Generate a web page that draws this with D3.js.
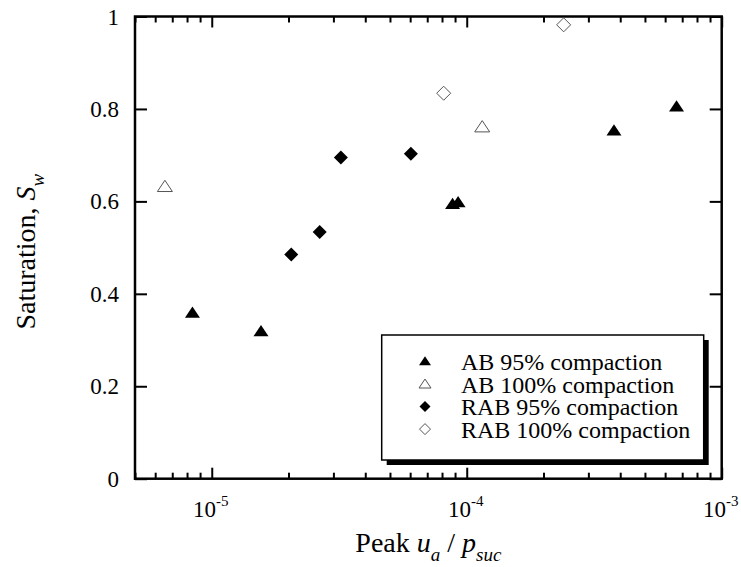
<!DOCTYPE html>
<html>
<head>
<meta charset="utf-8">
<script src="https://cdn.jsdelivr.net/npm/d3@7"></script>
<style>
  body { margin: 0; background: #fff; }
  text { font-family: "Liberation Serif", "Times New Roman", serif; fill: #000; }
</style>
</head>
<body>
<div id="chart"></div>
<script>
// series values: [peak ua/psuc, saturation Sw]
const ab95 = [[8.4e-6, 0.36], [1.56e-5, 0.32], [8.8e-5, 0.595], [9.25e-5, 0.599], [3.78e-4, 0.754], [6.65e-4, 0.806]];
const ab100 = [[6.55e-6, 0.633], [1.15e-4, 0.762]];
const rab95 = [[2.05e-5, 0.485], [2.65e-5, 0.534], [3.21e-5, 0.695], [6.04e-5, 0.703]];
const rab100 = [[8.12e-5, 0.834], [2.4e-4, 0.982]];

const seriesNames = ['AB 95% compaction', 'AB 100% compaction', 'RAB 95% compaction', 'RAB 100% compaction'];
const xMajorTicks = [1e-5, 1e-4, 1e-3];
const xTickExponents = ['-5', '-4', '-3'];
const yTicks = [0, 0.2, 0.4, 0.6, 0.8, 1];
const yTickLabels = ['0', '0.2', '0.4', '0.6', '0.8', '1'];

const width = 741, height = 567;
const m = { left: 135, right: 721.7, top: 16.5, bottom: 478.7 };

const svg = d3.select('#chart').append('svg').attr('width', width).attr('height', height);

const x = d3.scaleLog().domain([5e-6, 1e-3]).range([m.left, m.right]);
const y = d3.scaleLinear().domain([0, 1]).range([m.bottom, m.top]);

// custom marker shapes (flat triangle, square diamond)
const triangle = {
  draw(ctx, size) {
    const r = Math.sqrt(size) / 2;
    ctx.moveTo(0, -r * 0.78);
    ctx.lineTo(r, r * 0.72);
    ctx.lineTo(-r, r * 0.72);
    ctx.closePath();
  }
};
const diamond = {
  draw(ctx, size) {
    const r = Math.sqrt(size) / 2;
    ctx.moveTo(0, -r);
    ctx.lineTo(r, 0);
    ctx.lineTo(0, r);
    ctx.lineTo(-r, 0);
    ctx.closePath();
  }
};

const series = [
  { data: ab95, type: triangle, filled: true, size: 15 * 15 },
  { data: ab100, type: triangle, filled: false, size: 15 * 15 },
  { data: rab95, type: diamond, filled: true, size: 14 * 14 },
  { data: rab100, type: diamond, filled: false, size: 14 * 14 }
];

// minor/major ticks
const minorTicks = x.ticks().filter((t) => !xMajorTicks.some((v) => Math.abs(v - t) / v < 1e-6));

const axisG = svg.append('g');
const tickStroke = 2;

axisG.append('g').attr('transform', `translate(0,${m.bottom})`)
  .call(d3.axisBottom(x).tickValues(xMajorTicks).tickSizeInner(-11).tickSizeOuter(0).tickFormat(''));
axisG.append('g').attr('transform', `translate(0,${m.bottom})`)
  .call(d3.axisBottom(x).tickValues(minorTicks).tickSizeInner(-6).tickSizeOuter(0).tickFormat(''));
axisG.append('g').attr('transform', `translate(0,${m.top})`)
  .call(d3.axisTop(x).tickValues(xMajorTicks).tickSizeInner(-11).tickSizeOuter(0).tickFormat(''));
axisG.append('g').attr('transform', `translate(0,${m.top})`)
  .call(d3.axisTop(x).tickValues(minorTicks).tickSizeInner(-6).tickSizeOuter(0).tickFormat(''));
axisG.append('g').attr('transform', `translate(${m.left},0)`)
  .call(d3.axisLeft(y).tickValues(yTicks).tickSizeInner(-12).tickSizeOuter(0).tickFormat(''));
axisG.append('g').attr('transform', `translate(${m.right},0)`)
  .call(d3.axisRight(y).tickValues(yTicks).tickSizeInner(-12).tickSizeOuter(0).tickFormat(''));
axisG.selectAll('.domain').remove();
axisG.selectAll('.tick line').attr('stroke', '#000').attr('stroke-width', tickStroke);

// frame
svg.append('rect')
  .attr('x', m.left).attr('y', m.top)
  .attr('width', m.right - m.left).attr('height', m.bottom - m.top)
  .attr('fill', 'none').attr('stroke', '#000').attr('stroke-width', 2.5);

// y tick labels
svg.append('g').selectAll('text')
  .data(yTicks)
  .join('text')
  .attr('x', 119)
  .attr('y', (d) => y(d) + 8)
  .attr('text-anchor', 'end')
  .style('font-size', '23px')
  .text((d, i) => yTickLabels[i]);

// x tick labels 10^n
const xl = svg.append('g').selectAll('text')
  .data(xMajorTicks)
  .join('text')
  .attr('x', (d) => x(d) - 1)
  .attr('y', 517)
  .attr('text-anchor', 'middle')
  .style('font-size', '23px');
xl.append('tspan').text('10');
xl.append('tspan').attr('dy', -11).style('font-size', '15px').text((d, i) => xTickExponents[i]);

// axis titles
const xt = svg.append('text')
  .attr('x', (m.left + m.right) / 2)
  .attr('y', 552)
  .attr('text-anchor', 'middle')
  .style('font-size', '28px');
xt.append('tspan').text('Peak ');
xt.append('tspan').style('font-style', 'italic').text('u');
xt.append('tspan').attr('dy', 9).style('font-size', '19px').style('font-style', 'italic').text('a');
xt.append('tspan').attr('dy', -9).text(' / ');
xt.append('tspan').style('font-style', 'italic').text('p');
xt.append('tspan').attr('dy', 9).style('font-size', '19px').style('font-style', 'italic').text('suc');

const yt = svg.append('text')
  .attr('transform', `translate(35,${(m.top + m.bottom) / 2 + 4}) rotate(-90)`)
  .attr('text-anchor', 'middle')
  .style('font-size', '28px');
yt.append('tspan').text('Saturation, ');
yt.append('tspan').style('font-style', 'italic').text('S');
yt.append('tspan').attr('dy', 9).style('font-size', '19px').style('font-style', 'italic').text('w');

// points
series.forEach((s) => {
  svg.append('g').selectAll('path')
    .data(s.data)
    .join('path')
    .attr('transform', (d) => `translate(${x(d[0])},${y(d[1])})`)
    .attr('d', d3.symbol().type(s.type).size(s.size))
    .attr('fill', s.filled ? '#000' : '#fff')
    .attr('stroke', s.filled ? 'none' : '#555')
    .attr('stroke-width', 1);
});

// legend
const lg = { x: 381.7, y: 335, w: 322, h: 125 };
svg.append('rect')
  .attr('x', lg.x + 5).attr('y', lg.y + 5).attr('width', lg.w).attr('height', lg.h)
  .attr('fill', '#000');
svg.append('rect')
  .attr('x', lg.x).attr('y', lg.y).attr('width', lg.w).attr('height', lg.h)
  .attr('fill', '#fff').attr('stroke', '#000').attr('stroke-width', 1.5);

const rows = svg.append('g').selectAll('g')
  .data(series)
  .join('g')
  .attr('transform', (d, i) => `translate(0,${370 + i * 22.7})`);
rows.append('path')
  .attr('transform', 'translate(425,-9)')
  .attr('d', (d) => d3.symbol().type(d.type).size(d.type === triangle ? 12 * 12 : 11 * 11)())
  .attr('fill', (d) => (d.filled ? '#000' : '#fff'))
  .attr('stroke', (d) => (d.filled ? 'none' : '#555'))
  .attr('stroke-width', 1);
rows.append('text')
  .attr('x', 461)
  .style('font-size', '24px')
  .text((d, i) => seriesNames[i]);
</script>
</body>
</html>
